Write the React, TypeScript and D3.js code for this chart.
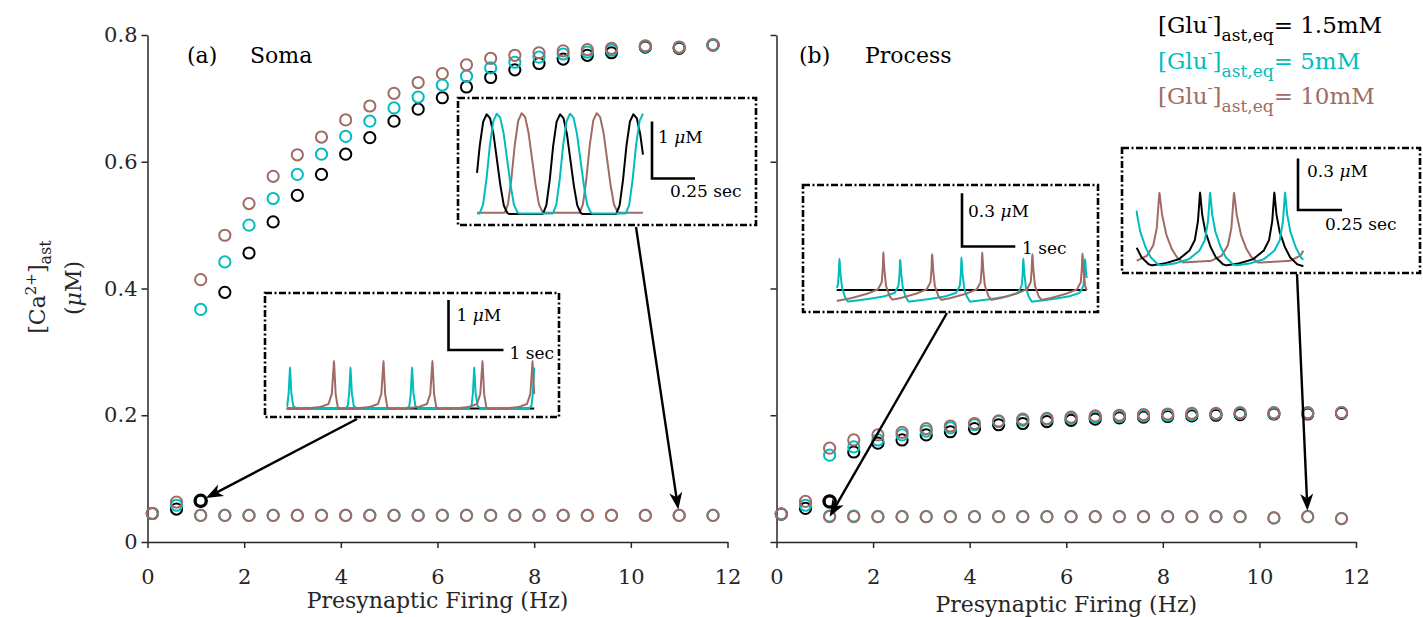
import React, { useEffect, useRef } from 'react';
import * as d3 from 'd3';

// ---------------- DATA ----------------
const freqHz = [0.1, 0.6, 1.1, 1.6, 2.1, 2.6, 3.1, 3.6, 4.1, 4.6, 5.1, 5.6, 6.1, 6.6, 7.1, 7.6, 8.1, 8.6, 9.1, 9.6, 10.3, 11, 11.7];

// (a) Soma, upper branch
const somaBlackHigh = [null, null, null, 0.394, 0.456, 0.505, 0.547, 0.580, 0.612, 0.638, 0.664, 0.683, 0.701, 0.718, 0.733, 0.745, 0.755, 0.762, 0.768, 0.772, 0.781, 0.779, 0.784];
const somaCyanHigh = [null, null, 0.367, 0.442, 0.500, 0.542, 0.580, 0.612, 0.640, 0.664, 0.685, 0.702, 0.721, 0.735, 0.748, 0.757, 0.765, 0.770, 0.773, 0.776, 0.782, 0.780, 0.784];
const somaBrownHigh = [null, null, 0.414, 0.484, 0.534, 0.577, 0.611, 0.639, 0.666, 0.688, 0.708, 0.725, 0.739, 0.753, 0.763, 0.768, 0.772, 0.775, 0.777, 0.779, 0.783, 0.781, 0.785];
// (a) Soma, lower branch
const somaBlackLow = [0.045, 0.052, 0.065, null, null, null, null, null, null, null, null, null, null, null, null, null, null, null, null, null, null, null, null];
const somaCyanLow = [0.045, 0.058, 0.042, 0.042, 0.042, 0.042, 0.042, 0.042, 0.042, 0.042, 0.042, 0.042, 0.042, 0.042, 0.042, 0.042, 0.042, 0.042, 0.042, 0.042, 0.042, 0.042, 0.042];
const somaBrownLow = [0.045, 0.063, 0.042, 0.042, 0.042, 0.042, 0.042, 0.042, 0.042, 0.042, 0.042, 0.042, 0.042, 0.042, 0.042, 0.042, 0.042, 0.042, 0.042, 0.042, 0.042, 0.042, 0.042];

// (b) Process, upper branch
const procBlackHigh = [null, null, null, 0.142, 0.156, 0.161, 0.169, 0.174, 0.179, 0.185, 0.187, 0.190, 0.192, 0.194, 0.196, 0.197, 0.198, 0.199, 0.200, 0.201, 0.202, 0.202, 0.203];
const procCyanHigh = [null, null, 0.137, 0.150, 0.161, 0.169, 0.175, 0.180, 0.185, 0.190, 0.192, 0.194, 0.195, 0.197, 0.198, 0.199, 0.200, 0.201, 0.202, 0.203, 0.203, 0.203, 0.204];
const procBrownHigh = [null, null, 0.148, 0.161, 0.169, 0.173, 0.179, 0.183, 0.187, 0.191, 0.194, 0.195, 0.197, 0.199, 0.200, 0.201, 0.202, 0.203, 0.203, 0.204, 0.204, 0.204, 0.204];
// (b) Process, lower branch
const procBlackLow = [0.044, 0.053, 0.064, null, null, null, null, null, null, null, null, null, null, null, null, null, null, null, null, null, null, null, null];
const procCyanLow = [0.044, 0.058, 0.041, 0.041, 0.040, 0.040, 0.040, 0.040, 0.040, 0.040, 0.040, 0.040, 0.040, 0.040, 0.040, 0.040, 0.040, 0.040, 0.040, 0.040, 0.038, 0.040, 0.037];
const procBrownLow = [0.044, 0.064, 0.040, 0.040, 0.040, 0.040, 0.040, 0.040, 0.040, 0.040, 0.040, 0.040, 0.040, 0.040, 0.040, 0.040, 0.040, 0.040, 0.040, 0.040, 0.038, 0.040, 0.037];

const xTicks = [0, 2, 4, 6, 8, 10, 12];
const yTicks = [0, 0.2, 0.4, 0.6, 0.8];
const yTickLabels = ['0', '0.2', '0.4', '0.6', '0.8'];

// Inset traces: peak times (s) and pulse templates [dt from peak (s), value (uM)]
const a1BlackPeaks = [0.056, 0.483, 0.909];
const a1CyanPeaks = [0.115, 0.541, 0.965];
const a1BrownPeaks = [0.26, 0.696];
const a1Pulse = [[-0.1, 0], [-0.08, 0.15], [-0.06, 0.6], [-0.04, 1.2], [-0.02, 1.62], [0, 1.75], [0.02, 1.68], [0.04, 1.4], [0.06, 0.95], [0.08, 0.5], [0.1, 0.15], [0.12, 0.02], [0.13, 0]];

const a2CyanPeaks = [0.06, 1.16, 2.28, 3.41, 4.5];
const a2BrownPeaks = [0.86, 1.76, 2.65, 3.56, 4.47];
const a2CyanPulse = [[-0.1, 0], [-0.05, 0.05], [-0.025, 0.3], [0, 0.82], [0.025, 0.3], [0.06, 0.05], [0.12, 0]];
const a2BrownPulse = [[-0.6, 0], [-0.25, 0.04], [-0.1, 0.1], [-0.04, 0.3], [0, 0.96], [0.03, 0.3], [0.07, 0.03], [0.12, 0]];

const b1CyanPeaks = [0.05, 1.19, 2.34, 3.5, 4.66];
const b1BrownPeaks = [0.875, 1.79, 2.73, 3.67, 4.61];
const b1CyanPulse = [[-1.0, 0], [-0.6, 0.015], [-0.3, 0.03], [-0.1, 0.05], [-0.03, 0.09], [-0.01, 0.16], [0, 0.25], [0.02, 0.16], [0.05, 0.08], [0.1, 0.03], [0.16, 0]];
const b1BrownPulse = [[-0.95, 0], [-0.6, 0.02], [-0.3, 0.045], [-0.1, 0.07], [-0.03, 0.11], [-0.01, 0.19], [0, 0.28], [0.02, 0.18], [0.05, 0.09], [0.12, 0.03], [0.2, 0]];

const b2BlackPeaks = [-0.062, 0.36, 0.782];
const b2CyanPeaks = [-0.01, 0.417, 0.843];
const b2BrownPeaks = [0.129, 0.553, 1.0];
const b2Pulse = [[-0.3, 0], [-0.2, 0.015], [-0.12, 0.04], [-0.06, 0.09], [-0.03, 0.15], [-0.012, 0.26], [0, 0.43], [0.012, 0.3], [0.03, 0.2], [0.06, 0.11], [0.09, 0.05], [0.13, 0.01], [0.16, 0]];
const b2BrownPulse = [[-0.3, 0.02], [-0.13, 0.03], [-0.07, 0.06], [-0.035, 0.12], [-0.015, 0.22], [0, 0.43], [0.015, 0.3], [0.04, 0.18], [0.07, 0.1], [0.1, 0.05], [0.136, 0.02], [0.3, 0.02]];

// ---------------- STYLE ----------------
const FONT = "'DejaVu Serif', serif";
const C_BLACK = '#000000';
const C_CYAN = '#00BDBD';
const C_BROWN = '#9F6B64';
const AXIS = '#262626';

const yScale = d3.scaleLinear().domain([0, 0.8]).range([542, 35]);
const xSoma = d3.scaleLinear().domain([0, 12]).range([147.5, 727.5]);
const xProc = d3.scaleLinear().domain([0, 12]).range([776.5, 1356]);

function Axes({ x, labels }) {
  const gx = useRef(null);
  const gy = useRef(null);
  useEffect(() => {
    const ax = d3.axisBottom(x).tickValues(xTicks).tickFormat(d3.format('d')).tickSize(6).tickSizeOuter(0).tickPadding(21);
    const ay = d3.axisLeft(yScale).tickValues(yTicks).tickFormat((d, i) => (labels ? yTickLabels[i] : '')).tickSize(6).tickSizeOuter(0).tickPadding(4);
    [d3.select(gx.current).call(ax), d3.select(gy.current).call(ay)].forEach((s) => {
      s.attr('font-family', FONT).attr('font-size', 21);
      s.select('.domain').attr('stroke', AXIS).attr('stroke-width', 1.5);
      s.selectAll('.tick line').attr('stroke', AXIS).attr('stroke-width', 1.5);
      s.selectAll('.tick text').attr('fill', AXIS);
    });
  }, []);
  return (
    <g>
      <g ref={gx} transform={`translate(0,${yScale(0)})`} />
      <g ref={gy} transform={`translate(${x(0)},0)`} />
    </g>
  );
}

function Points({ x, vals, color, boldIdx = -1 }) {
  return (
    <g>
      {vals.map((v, i) =>
        v == null ? null : (
          <circle key={i} cx={x(freqHz[i])} cy={yScale(v)} r={5.6} fill="none" stroke={color} strokeWidth={i === boldIdx ? 3.3 : 2} />
        )
      )}
    </g>
  );
}

function traceValues(T, peaks, tmpl, base) {
  const interp = d3.scaleLinear().domain(tmpl.map((d) => d[0])).range(tmpl.map((d) => d[1])).clamp(true);
  const n = 900;
  return d3.range(n + 1).map((k) => {
    const t = (k / n) * T;
    return [t, base + (peaks.length ? d3.max(peaks, (p) => interp(t - p)) : 0)];
  });
}

function Inset({ box, t0x, T, pxPerSec, yBase, pxPerUnit, traces, bar }) {
  const ts = d3.scaleLinear().domain([0, T]).range([t0x, t0x + T * pxPerSec]);
  const vs = d3.scaleLinear().domain([0, 1]).range([yBase, yBase - pxPerUnit]);
  const line = d3.line().curve(d3.curveMonotoneX).x((d) => ts(d[0])).y((d) => vs(d[1]));
  const barH = pxPerUnit * bar.amp;
  const barW = pxPerSec * bar.dur;
  return (
    <g>
      <rect x={box[0]} y={box[1]} width={box[2] - box[0]} height={box[3] - box[1]} fill="white" stroke="#000" strokeWidth={2.6} strokeDasharray="7 2.5 2 2.5" />
      {traces.map((tr, i) => (
        <path key={i} d={line(traceValues(T, tr.peaks, tr.pulse, tr.base))} fill="none" stroke={tr.color} strokeWidth={2} />
      ))}
      <path d={`M${bar.x},${bar.y - barH}V${bar.y}H${bar.x + barW}`} fill="none" stroke="#000" strokeWidth={2.6} />
      <text x={bar.x + bar.ampDx} y={bar.y - barH + bar.ampDy} fontFamily={FONT} fontSize={17} fill="#000">
        {bar.ampLabel} <tspan fontStyle="italic">μ</tspan>M
      </text>
      <text x={bar.x + bar.durDx} y={bar.y + bar.durDy} fontFamily={FONT} fontSize={17} fill="#000">
        {bar.durLabel}
      </text>
    </g>
  );
}

function Arrow({ x1, y1, x2, y2, off }) {
  const dx = x1 - x2;
  const dy = y1 - y2;
  const L = Math.hypot(dx, dy);
  const ux = dx / L;
  const uy = dy / L;
  const tx = x2 + ux * off;
  const ty = y2 + uy * off;
  const len = 17;
  const w = 6.5;
  const bx = tx + ux * len;
  const by = ty + uy * len;
  const nx = tx + ux * len * 0.72;
  const ny = ty + uy * len * 0.72;
  const px = -uy;
  const py = ux;
  return (
    <g>
      <line x1={x1} y1={y1} x2={nx} y2={ny} stroke="#000" strokeWidth={2.4} />
      <polygon points={`${tx},${ty} ${bx + px * w},${by + py * w} ${nx},${ny} ${bx - px * w},${by - py * w}`} fill="#000" />
    </g>
  );
}

function LegendLine({ y, color, value }) {
  return (
    <text x={1158} y={y} fontFamily={FONT} fontSize={23} fill={color}>
      [Glu<tspan fontSize={15} dy={-11}>-</tspan>
      <tspan dy={11}>]</tspan>
      <tspan fontSize={17} dy={8}>ast,eq</tspan>
      <tspan dy={-8}>= {value}</tspan>
    </text>
  );
}

export default function App() {
  return (
    <svg width={1423} height={617} style={{ position: 'absolute', left: 0, top: 0, background: '#fff' }}>
      <rect width={1423} height={617} fill="#fff" />
      <Axes x={xSoma} labels={true} />
      <Axes x={xProc} labels={false} />

      {/* y title */}
      <text transform="translate(45,287) rotate(-90)" textAnchor="middle" fontFamily={FONT} fontSize={22} fill={AXIS}>
        [Ca<tspan fontSize={15} dy={-9}>2+</tspan>
        <tspan dy={9}>]</tspan>
        <tspan fontSize={16} dy={6}>ast</tspan>
      </text>
      <text transform="translate(81,288) rotate(-90)" textAnchor="middle" fontFamily={FONT} fontSize={22} fill={AXIS}>
        (<tspan fontStyle="italic">μ</tspan>M)
      </text>

      {/* x titles */}
      <text x={xSoma(6)} y={608} textAnchor="middle" fontFamily={FONT} fontSize={22} fill={AXIS}>Presynaptic Firing (Hz)</text>
      <text x={xProc(6)} y={612} textAnchor="middle" fontFamily={FONT} fontSize={22} fill={AXIS}>Presynaptic Firing (Hz)</text>

      {/* panel labels */}
      <text x={187} y={63} fontFamily={FONT} fontSize={22} fill="#000">(a)</text>
      <text x={250} y={63} fontFamily={FONT} fontSize={22} fill="#000">Soma</text>
      <text x={799} y={63} fontFamily={FONT} fontSize={22} fill="#000">(b)</text>
      <text x={865} y={63} fontFamily={FONT} fontSize={22} fill="#000">Process</text>

      {/* soma points */}
      <Points x={xSoma} vals={somaBlackHigh} color={C_BLACK} />
      <Points x={xSoma} vals={somaCyanHigh} color={C_CYAN} />
      <Points x={xSoma} vals={somaBrownHigh} color={C_BROWN} />
      <Points x={xSoma} vals={somaBlackLow} color={C_BLACK} />
      <Points x={xSoma} vals={somaCyanLow} color={C_CYAN} />
      <Points x={xSoma} vals={somaBrownLow} color={C_BROWN} />
      <Points x={xSoma} vals={somaBlackLow.map((v, i) => (i === 2 ? v : null))} color={C_BLACK} boldIdx={2} />

      {/* process points */}
      <Points x={xProc} vals={procBlackHigh} color={C_BLACK} />
      <Points x={xProc} vals={procCyanHigh} color={C_CYAN} />
      <Points x={xProc} vals={procBrownHigh} color={C_BROWN} />
      <Points x={xProc} vals={procBlackLow} color={C_BLACK} />
      <Points x={xProc} vals={procCyanLow} color={C_CYAN} />
      <Points x={xProc} vals={procBrownLow} color={C_BROWN} />
      <Points x={xProc} vals={procBlackLow.map((v, i) => (i === 2 ? v : null))} color={C_BLACK} boldIdx={2} />

      {/* insets */}
      <Inset
        box={[458, 98, 756, 225]} t0x={477} T={0.965} pxPerSec={172} yBase={214} pxPerUnit={57}
        traces={[
          { color: C_BROWN, peaks: a1BrownPeaks, pulse: a1Pulse, base: 0.02 },
          { color: C_BLACK, peaks: a1BlackPeaks, pulse: a1Pulse, base: 0 },
          { color: C_CYAN, peaks: a1CyanPeaks, pulse: a1Pulse, base: 0.01 },
        ]}
        bar={{ x: 652, y: 178.5, amp: 1, dur: 0.25, ampLabel: '1', durLabel: '0.25 sec', ampDx: 6, ampDy: 21, durDx: 18, durDy: 18 }}
      />
      <Inset
        box={[265, 293, 559, 417]} t0x={286.7} T={4.5} pxPerSec={55} yBase={409} pxPerUnit={50}
        traces={[
          { color: C_BLACK, peaks: [], pulse: a2CyanPulse, base: 0.01 },
          { color: C_CYAN, peaks: a2CyanPeaks, pulse: a2CyanPulse, base: 0.01 },
          { color: C_BROWN, peaks: a2BrownPeaks, pulse: a2BrownPulse, base: 0 },
        ]}
        bar={{ x: 448.5, y: 350, amp: 1, dur: 1, ampLabel: '1', durLabel: '1 sec', ampDx: 8, ampDy: 21, durDx: 61, durDy: 9 }}
      />
      <Inset
        box={[803, 185, 1098, 312]} t0x={836.7} T={4.69} pxPerSec={53.3} yBase={301.7} pxPerUnit={177.7}
        traces={[
          { color: C_BLACK, peaks: [], pulse: b1CyanPulse, base: 0.066 },
          { color: C_CYAN, peaks: b1CyanPeaks, pulse: b1CyanPulse, base: 0 },
          { color: C_BROWN, peaks: b1BrownPeaks, pulse: b1BrownPulse, base: 0 },
        ]}
        bar={{ x: 962, y: 246.5, amp: 0.3, dur: 1, ampLabel: '0.3', durLabel: '1 sec', ampDx: 6, ampDy: 24, durDx: 60, durDy: 7 }}
      />
      <Inset
        box={[1122, 148, 1420, 273]} t0x={1136.7} T={0.947} pxPerSec={176} yBase={266} pxPerUnit={172}
        traces={[
          { color: C_BROWN, peaks: b2BrownPeaks, pulse: b2BrownPulse, base: 0 },
          { color: C_BLACK, peaks: b2BlackPeaks, pulse: b2Pulse, base: 0 },
          { color: C_CYAN, peaks: b2CyanPeaks, pulse: b2Pulse, base: 0 },
        ]}
        bar={{ x: 1298, y: 210, amp: 0.3, dur: 0.25, ampLabel: '0.3', durLabel: '0.25 sec', ampDx: 9, ampDy: 19, durDx: 27, durDy: 20 }}
      />

      {/* arrows */}
      <Arrow x1={357} y1={419} x2={xSoma(freqHz[2])} y2={yScale(somaBlackLow[2])} off={6} />
      <Arrow x1={636} y1={227} x2={xSoma(freqHz[21])} y2={yScale(somaBrownLow[21])} off={6} />
      <Arrow x1={947} y1={313} x2={xProc(freqHz[2])} y2={yScale(procBrownLow[2])} off={0} />
      <Arrow x1={1297} y1={274} x2={xProc(freqHz[21])} y2={yScale(procBrownLow[21])} off={6} />

      {/* legend */}
      <LegendLine y={33} color={C_BLACK} value="1.5mM" />
      <LegendLine y={69} color={C_CYAN} value="5mM" />
      <LegendLine y={104} color={C_BROWN} value="10mM" />
    </svg>
  );
}
